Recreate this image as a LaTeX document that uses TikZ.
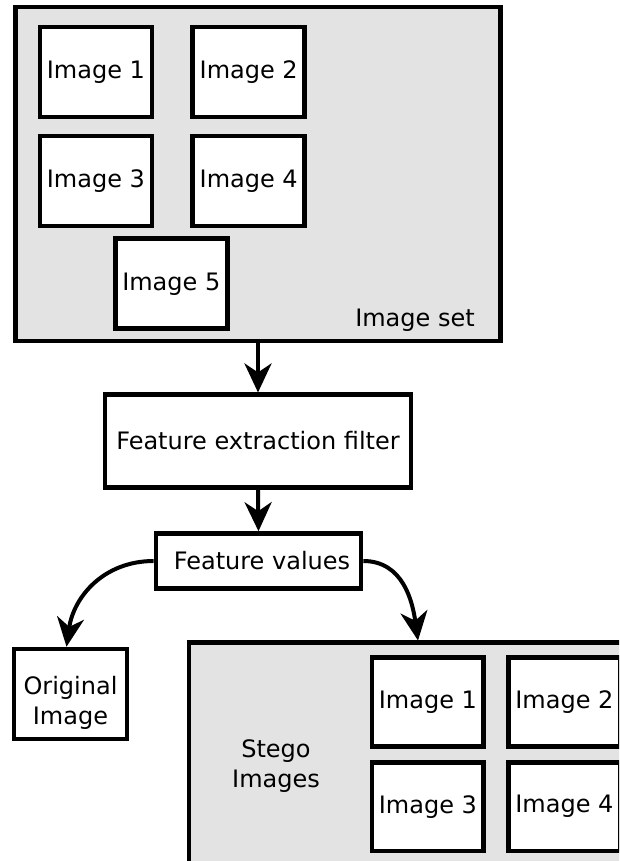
\documentclass[tikz,border=0pt]{standalone}
\usepackage{fontspec}
\setmainfont{DejaVu Sans}
\usetikzlibrary{arrows.meta}
\definecolor{boxgray}{HTML}{E3E3E3}
\begin{document}
\begin{tikzpicture}[x=1pt,y=-1pt,
  every node/.style={font=\fontsize{24}{30.5}\selectfont},
  frame/.style={draw, line width=4.6pt, fill=boxgray, inner sep=0pt},
  imgbox/.style={draw, line width=4.8pt, fill=white, inner sep=0pt, minimum width=112pt, minimum height=90pt},
  procbox/.style={draw, line width=4.6pt, fill=white, inner sep=0pt},
  txt/.style={align=center, inner sep=0pt},
  flow/.style={line width=4pt, -{Stealth[length=29pt,width=27pt,inset=9pt]}}
]
\clip (0,0) rectangle (619,861);
\fill[white] (0,0) rectangle (619,861);
% top image set
\node[frame, minimum width=485.4pt, minimum height=334pt] (set) at (258,174) {};
\node[imgbox] (i1) at (95.9,72) {Image 1};
\node[imgbox] (i2) at (248.7,72) {Image 2};
\node[imgbox] (i3) at (95.9,181) {Image 3};
\node[imgbox] (i4) at (248.7,181) {Image 4};
\node[imgbox] (i5) at (171.3,283.8) {Image 5};
\node[txt, anchor=base] (settxt) at (415,326) {Image set};
% process
\node[procbox, minimum width=306pt, minimum height=92.5pt] (fe) at (258,441) {Feature extraction filter};
\node[procbox, minimum width=205pt, minimum height=55pt] (fv) at (258.5,561) {\hspace{7pt}Feature values};
% original
\node[procbox, minimum width=113pt, minimum height=90pt] (ob) at (70.5,694) {};
\node[txt] (obtxt) at (70.5,703) {Original\\Image};
% stego
\node[frame, minimum width=451pt, minimum height=237.3pt] (stego) at (414.5,761.35) {};
\node[txt] (sttxt) at (276,766) {Stego\\Images};
\node[imgbox, minimum width=111.7pt, minimum height=88.5pt] (s1) at (427.9,702) {Image 1};
\node[imgbox, minimum width=111.7pt, minimum height=88.5pt] (s2) at (564.4,702) {Image 2};
\node[imgbox, minimum width=111.7pt, minimum height=88.5pt] (s3) at (427.9,806.7) {Image 3};
\node[imgbox, minimum width=111.7pt, minimum height=88.5pt] (s4) at (564.4,806.7) {Image 4};
\coordinate (sttop) at (418,640.5);
% connectors
\draw[flow] (set.south) -- (fe.north);
\draw[flow] (fe.south) -- (fv.north);
\draw[flow] (fv.west) to[out=180,in=82,looseness=1.05] ([xshift=-4pt]ob.north);
\draw[flow] (fv.east) to[out=0,in=98,looseness=1.05] (sttop);
\end{tikzpicture}
\end{document}
